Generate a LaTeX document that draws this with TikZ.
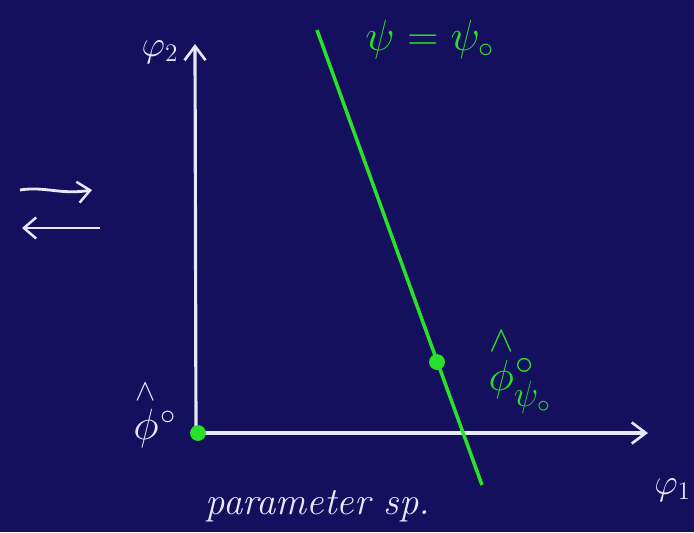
\documentclass[tikz,border=0pt]{standalone}
\usepackage{amsmath}
\usetikzlibrary{arrows.meta}
\definecolor{board}{RGB}{20,16,94}
\definecolor{chalk}{RGB}{232,232,250}
\definecolor{pen}{RGB}{40,225,40}
\tikzset{
  axis/.style={chalk, line width=1.8pt, -{Straight Barb[length=8pt,width=12pt,line width=1.5pt]}},
  gline/.style={pen, line width=2pt},
  gdot/.style={circle, fill=pen, inner sep=0pt, minimum size=9pt},
  wlab/.style={text=chalk, inner sep=0pt},
  glab/.style={text=pen, inner sep=0pt},
  sidearrow/.style={chalk, line width=1.6pt, -{Straight Barb[length=7pt,width=12pt,line width=1.4pt]}}
}
\begin{document}
\begin{tikzpicture}[x=0.02cm,y=-0.02cm]
\fill[board] (0,0) rectangle (694,532);
\useasboundingbox (0,0) rectangle (694,532);
% axes
\coordinate (O) at (196,433);
\coordinate (xend) at (648,433);
\coordinate (yend) at (195,44);
\draw[axis] (O) -- (xend);
\draw[axis] (O) -- (yend);
% green line
\coordinate (la) at (317,30);
\coordinate (lb) at (482,485);
\draw[gline] (la) -- (lb);
\node[gdot] (orig) at (198,433) {};
\node[gdot] (pt) at (437,362) {};
% labels
\node[wlab, font=\fontsize{22}{24}\selectfont] (phi2) at (160,52) {$\varphi_2$};
\node[glab, font=\fontsize{26}{28}\selectfont] (psieq) at (430,40) {$\psi=\psi_\circ$};
\node[wlab, font=\fontsize{24}{26}\selectfont] (phihat) at (155,414) {$\overset{\wedge}{\phi}{}^{\kern1pt\circ}$};
\node[glab, font=\fontsize{29}{31}\selectfont] (phipsi) at (520,370) {$\overset{\wedge}{\phi}{}^{\kern1pt\circ}_{\psi_\circ}$};
\node[wlab, font=\fontsize{22}{24}\selectfont, anchor=west] (phi1) at (654,490) {$\varphi_1$};
\node[wlab, font=\fontsize{22}{24}\selectfont\itshape] (ps) at (318,506) {parameter sp.};
% side arrows
\coordinate (ra) at (20,190);
\coordinate (rb) at (92,190);
\coordinate (lla) at (100,228);
\coordinate (llb) at (22,228);
\draw[sidearrow] (ra) .. controls (45,186) and (60,195) .. (rb);
\draw[sidearrow] (lla) -- (llb);
\end{tikzpicture}
\end{document}
